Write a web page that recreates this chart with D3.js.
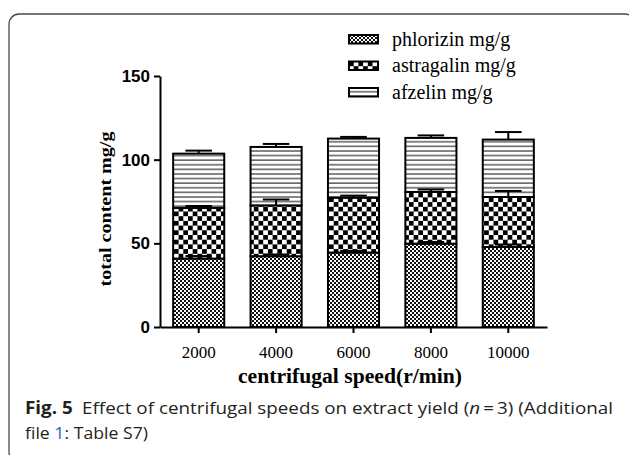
<!DOCTYPE html>
<html>
    <head>
        <meta charset="utf-8">
        <title>Fig 5 - centrifugal speed</title>
        <style>
            body { margin: 0; background: #fff; }
            svg { display: block; }
        </style>
    </head>
    <body>
        <svg id="chart" width="629" height="455"></svg>

        <script src="https://d3js.org/d3.v7.min.js"></script>

        <script>
            // dados
            const speeds = ["2000", "4000", "6000", "8000", "10000"];
            const series = ["phlorizin", "astragalin", "afzelin"];
            const legendLabels = ["phlorizin mg/g", "astragalin mg/g", "afzelin mg/g"];
            const phlorizin = [40.9, 42.3, 44.5, 49.8, 47.8];
            const astragalin = [30.2, 30.4, 32.8, 30.9, 29.9];
            const afzelin = [32.5, 34.9, 35.3, 32.3, 34.3];
            const phlorizinErr = [1.5, 1.0, 1.0, 1.0, 1.5];
            const astragalinErr = [1.2, 3.5, 1.2, 1.5, 3.6];
            const afzelinErr = [1.8, 1.8, 1.0, 1.5, 4.5];
            const yTicks = [0, 50, 100, 150];

            const errors = { phlorizin: phlorizinErr, astragalin: astragalinErr, afzelin: afzelinErr };

            const table = speeds.map((s, i) => ({
                speed: s,
                phlorizin: phlorizin[i],
                astragalin: astragalin[i],
                afzelin: afzelin[i]
            }));

            const svg = d3.select("#chart");

            // moldura arredondada
            svg.append("rect")
                .attr("x", 9).attr("y", 14)
                .attr("width", 626).attr("height", 448)
                .attr("rx", 10)
                .attr("fill", "none")
                .attr("stroke", "#4a4a4a")
                .attr("stroke-width", 1.3);

            // padrões de preenchimento
            const defs = svg.append("defs");

            const p1 = defs.append("pattern")
                .attr("id", "pat-phlorizin")
                .attr("patternUnits", "userSpaceOnUse")
                .attr("width", 4).attr("height", 4);
            p1.append("rect").attr("width", 4).attr("height", 4).attr("fill", "#fff");
            p1.append("rect").attr("width", 2).attr("height", 2).attr("fill", "#111");
            p1.append("rect").attr("x", 2).attr("y", 2).attr("width", 2).attr("height", 2).attr("fill", "#111");

            const p2 = defs.append("pattern")
                .attr("id", "pat-astragalin")
                .attr("patternUnits", "userSpaceOnUse")
                .attr("width", 9.4).attr("height", 9.4);
            p2.append("rect").attr("width", 9.4).attr("height", 9.4).attr("fill", "#fff");
            p2.append("rect").attr("width", 4.7).attr("height", 4.7).attr("fill", "#000");
            p2.append("rect").attr("x", 4.7).attr("y", 4.7).attr("width", 4.7).attr("height", 4.7).attr("fill", "#000");

            const p3 = defs.append("pattern")
                .attr("id", "pat-afzelin")
                .attr("patternUnits", "userSpaceOnUse")
                .attr("width", 8).attr("height", 4.6);
            p3.append("rect").attr("width", 8).attr("height", 4.6).attr("fill", "#fff");
            p3.append("rect").attr("y", 3.2).attr("width", 8).attr("height", 1.1).attr("fill", "#222");

            // escalas
            const x = d3.scaleBand()
                .domain(speeds)
                .range([160, 547])
                .paddingInner(0.34)
                .paddingOuter(0.17);

            const y = d3.scaleLinear()
                .domain([0, 150])
                .range([327, 76]);

            const stack = d3.stack().keys(series)(table);

            // barras empilhadas
            const layers = svg.append("g").selectAll("g")
                .data(stack)
                .join("g")
                  .attr("fill", d => "url(#pat-" + d.key + ")");

            layers.selectAll("rect")
                .data(d => d)
                .join("rect")
                  .attr("x", d => x(d.data.speed))
                  .attr("width", x.bandwidth())
                  .attr("y", d => y(d[1]))
                  .attr("height", d => y(d[0]) - y(d[1]))
                  .attr("stroke", "#000")
                  .attr("stroke-width", 2);

            // barras de erro (só para cima, estilo prism)
            const capW = x.bandwidth() * 0.52;
            const errG = svg.append("g")
                .attr("stroke", "#000")
                .attr("stroke-width", 2);

            stack.forEach(layer => {
                layer.forEach((d, i) => {
                    const cx = x(d.data.speed) + x.bandwidth() / 2;
                    const top = d[1];
                    const e = errors[layer.key][i];
                    errG.append("line")
                        .attr("x1", cx).attr("x2", cx)
                        .attr("y1", y(top)).attr("y2", y(top + e));
                    errG.append("line")
                        .attr("x1", cx - capW / 2).attr("x2", cx + capW / 2)
                        .attr("y1", y(top + e)).attr("y2", y(top + e));
                });
            });

            // eixo y
            svg.append("g")
                .attr("transform", "translate(160,0)")
                .call(d3.axisLeft(y).tickValues(yTicks).tickSize(6).tickPadding(4).tickSizeOuter(0))
                .call(g => g.select(".domain").attr("stroke-width", 2))
                .call(g => g.selectAll(".tick line").attr("stroke-width", 2))
                .call(g => g.selectAll("text")
                    .attr("font-family", "'Liberation Sans', Arial, sans-serif")
                    .attr("font-weight", "bold")
                    .attr("font-size", 17)
                    .attr("fill", "#000"));

            // eixo x
            svg.append("g")
                .attr("transform", "translate(0,327)")
                .call(d3.axisBottom(x).tickSize(6).tickPadding(13).tickSizeOuter(0))
                .call(g => g.select(".domain").attr("stroke-width", 2))
                .call(g => g.selectAll(".tick line").attr("stroke-width", 2))
                .call(g => g.selectAll("text")
                    .attr("font-family", "'Liberation Serif', 'DejaVu Serif', serif")
                    .attr("font-size", 17)
                    .attr("fill", "#000"));

            // títulos dos eixos
            svg.append("text")
                .attr("x", 350)
                .attr("y", 383)
                .attr("text-anchor", "middle")
                .attr("font-family", "'Liberation Serif', serif")
                .attr("font-weight", "bold")
                .attr("font-size", 20)
                .attr("textLength", 224)
                .attr("lengthAdjust", "spacingAndGlyphs")
                .text("centrifugal speed(r/min)");

            svg.append("text")
                .attr("transform", "translate(111,209) rotate(-90)")
                .attr("text-anchor", "middle")
                .attr("font-family", "'Liberation Serif', serif")
                .attr("font-weight", "bold")
                .attr("font-size", 17)
                .attr("textLength", 155)
                .attr("lengthAdjust", "spacingAndGlyphs")
                .text("total content mg/g");

            // legenda
            const leg = svg.append("g")
                .attr("transform", "translate(349,35)");

            const items = leg.selectAll("g")
                .data(series)
                .join("g")
                  .attr("transform", (d, i) => "translate(0," + (i * 26.5) + ")");

            items.append("rect")
                .attr("width", 29)
                .attr("height", 8.5)
                .attr("fill", d => "url(#pat-" + d + ")")
                .attr("stroke", "#000")
                .attr("stroke-width", 2);

            items.append("text")
                .attr("x", 43)
                .attr("y", 10.5)
                .attr("font-family", "'Liberation Serif', serif")
                .attr("font-size", 20)
                .text((d, i) => legendLabels[i]);

            // legenda da figura
            const cap = svg.append("text")
                .attr("x", 25)
                .attr("y", 414)
                .attr("font-family", "'Open Sans', 'Noto Sans', sans-serif")
                .attr("font-size", 17)
                .attr("fill", "#231f20")
                .attr("textLength", 588)
                .attr("lengthAdjust", "spacingAndGlyphs");
            cap.append("tspan").attr("font-weight", "bold").text("Fig. 5");
            cap.append("tspan").text("\u2002Effect of centrifugal speeds on extract yield (");
            cap.append("tspan").attr("font-style", "italic").text("n");
            cap.append("tspan").text("\u2009=\u20093) (Additional");

            const cap2 = svg.append("text")
                .attr("x", 25)
                .attr("y", 439)
                .attr("font-family", "'Open Sans', 'Noto Sans', sans-serif")
                .attr("font-size", 17)
                .attr("fill", "#231f20")
                .attr("textLength", 123)
                .attr("lengthAdjust", "spacingAndGlyphs");
            cap2.append("tspan").text("file ");
            cap2.append("tspan").attr("fill", "#2b63c6").text("1");
            cap2.append("tspan").text(": Table S7)");
        </script>
    </body>
</html>
